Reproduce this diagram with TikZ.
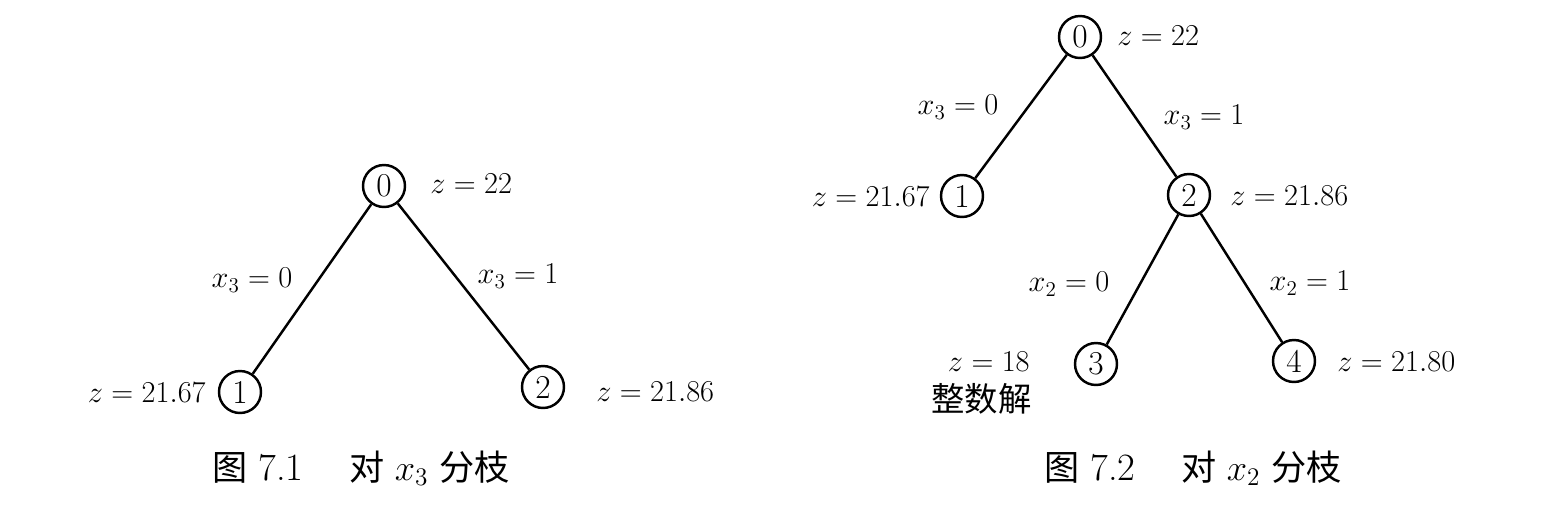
\documentclass[tikz,border=0pt]{standalone}
\usepackage{fontspec}
\newfontfamily\cjk{Noto Sans CJK SC}
\begin{document}
\begin{tikzpicture}[x=0.02cm,y=-0.02cm,
	knot/.style={circle,draw,line width=1.4pt,minimum size=0.84cm,inner sep=0pt,font=\fontsize{19}{22}\selectfont},
	tag/.style={inner sep=0pt,font=\fontsize{17}{20}\selectfont},
	caption/.style={inner sep=0pt,font=\fontsize{20}{24}\selectfont},
	branch/.style={line width=1.4pt}]
	\useasboundingbox (0,0) rectangle (1566,522);
	% first tree: branch on x3
	\node [knot] (a0) at (384,186) {0};
	\node [knot] (a1) at (240,392) {1};
	\node [knot] (a2) at (543,387) {2};
	\draw [branch] (a0) -- (a1);
	\draw [branch] (a0) -- (a2);
	\node [tag, anchor=west] (za0) at (430,184) {$z=22$};
	\node [tag, anchor=east] (za1) at (206,393) {$z=21.67$};
	\node [tag, anchor=west] (za2) at (596,392) {$z=21.86$};
	\node [tag] (xa1) at (252,280) {$x_3=0$};
	\node [tag] (xa2) at (518,276) {$x_3=1$};
	\node [caption] (capa) at (361,468) {{\cjk 图} {\fontsize{22}{24}\selectfont 7.1}\hspace{1.3em}{\cjk 对} $x_3$ {\cjk 分枝}};
	% second tree: branch on x2
	\node [knot] (b0) at (1080,37) {0};
	\node [knot] (b1) at (962,196) {1};
	\node [knot] (b2) at (1189,195) {2};
	\node [knot] (b3) at (1096,364) {3};
	\node [knot] (b4) at (1294,361) {4};
	\draw [branch] (b0) -- (b1);
	\draw [branch] (b0) -- (b2);
	\draw [branch] (b2) -- (b3);
	\draw [branch] (b2) -- (b4);
	\node [tag, anchor=west] (zb0) at (1117,36) {$z=22$};
	\node [tag, anchor=east] (zb1) at (930,197) {$z=21.67$};
	\node [tag, anchor=west] (zb2) at (1230,196) {$z=21.86$};
	\node [tag, anchor=east] (zb3) at (1030,362) {$z=18$};
	\node [tag, anchor=east, font=\fontsize{19}{22}\selectfont] (int3) at (1032,399) {\cjk 整数解};
	\node [tag, anchor=west] (zb4) at (1337,362) {$z=21.80$};
	\node [tag] (xb1) at (958,107) {$x_3=0$};
	\node [tag] (xb2) at (1204,117) {$x_3=1$};
	\node [tag] (xb3) at (1069,284) {$x_2=0$};
	\node [tag] (xb4) at (1310,283) {$x_2=1$};
	\node [caption] (capb) at (1193,468) {{\cjk 图} {\fontsize{22}{24}\selectfont 7.2}\hspace{1.3em}{\cjk 对} $x_2$ {\cjk 分枝}};
\end{tikzpicture}
\end{document}
